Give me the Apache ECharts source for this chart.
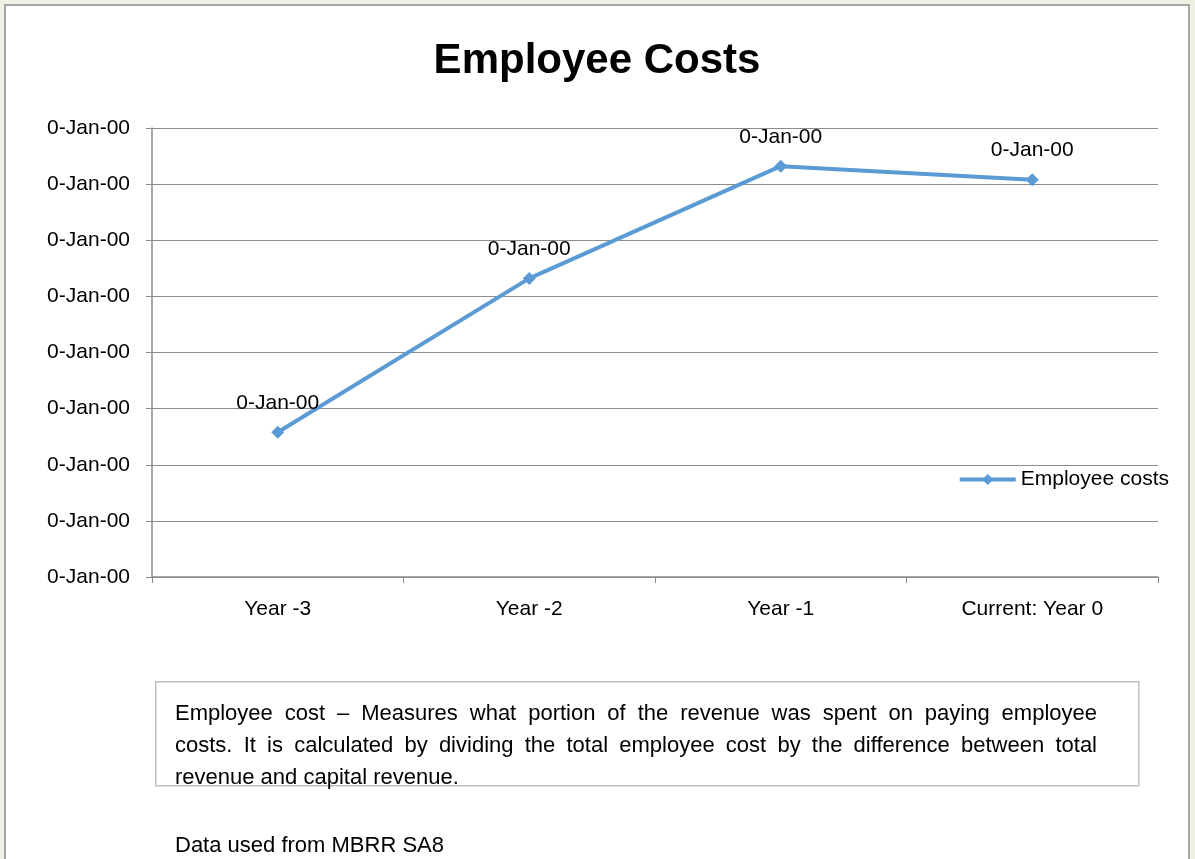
<!DOCTYPE html>
<html>
<head>
<meta charset="utf-8">
<script src="https://cdn.jsdelivr.net/npm/echarts@6/dist/echarts.min.js"></script>
<style>
html, body { margin: 0; padding: 0; background: #eef2e2; }
#chart {
    position: absolute; left: 4px; top: 4px;
    width: 1186px; height: 870px;
    background: #fff; border: 2px solid #a6a6a6; box-sizing: border-box;
}
</style>
</head>
<body>
<div id="chart"></div>
<script>
var categories = ['Year -3', 'Year -2', 'Year -1', 'Current: Year 0'];
var employeeCosts = [0.129, 0.266, 0.366, 0.354];
var noteLines = [
    'Employee cost \u2013 Measures what portion of the revenue was spent on paying employee',
    'costs. It is calculated by dividing the total employee cost by the difference between total',
    'revenue and capital revenue.'
];
var sourceLine = 'Data used from MBRR SA8';

var font = '"Liberation Sans", Arial, sans-serif';
var noteFont = '22px ' + font;
function dateLabel() { return '0-Jan-00'; }

var chart = echarts.init(document.getElementById('chart'));

// measure words so the first two note lines can be justified like the original
var ctx = document.createElement('canvas').getContext('2d');
ctx.font = noteFont;

var graphics = [{
    type: 'rect',
    left: 149, top: 675,
    shape: { width: 983, height: 104 },
    style: { fill: '#fff', stroke: '#c0c0c0', lineWidth: 1.5 }
}];
var textLeft = 169, textWidth = 922;
noteLines.forEach(function (t, i) {
    var top = 697 + i * 32;
    if (i === noteLines.length - 1) {
        graphics.push({ type: 'text', left: textLeft, top: top,
            style: { text: t, font: noteFont, fill: '#000' } });
        return;
    }
    var words = t.split(' ');
    var total = 0;
    words.forEach(function (w) { total += ctx.measureText(w).width; });
    var gap = (textWidth - total) / (words.length - 1);
    var x = textLeft;
    words.forEach(function (w) {
        graphics.push({ type: 'text', left: x, top: top,
            style: { text: w, font: noteFont, fill: '#000' } });
        x += ctx.measureText(w).width + gap;
    });
});
graphics.push({
    type: 'text', left: textLeft, top: 829,
    style: { text: sourceLine, font: noteFont, fill: '#000' }
});

var option = {
    animation: false,
    title: {
        text: 'Employee Costs',
        left: 'center', top: 29,
        textStyle: { fontFamily: font, fontSize: 42, fontWeight: 'bold', color: '#000' }
    },
    legend: {
        right: 14, top: 458,
        itemWidth: 56, itemHeight: 14, itemGap: 6,
        lineStyle: { width: 4 },
        textStyle: { fontFamily: font, fontSize: 21, color: '#000' },
        data: ['Employee costs']
    },
    grid: { left: 146, right: 30, top: 122, bottom: 295 },
    xAxis: {
        type: 'category',
        data: categories,
        boundaryGap: true,
        axisLine: { lineStyle: { color: '#8c8c8c', width: 1.5 } },
        axisTick: { show: true, length: 6, lineStyle: { color: '#8c8c8c' } },
        axisLabel: { fontFamily: font, fontSize: 21, color: '#000', margin: 22 }
    },
    yAxis: {
        type: 'value',
        min: 0, max: 0.4, interval: 0.05,
        axisLine: { show: true, lineStyle: { color: '#8c8c8c', width: 1.5 } },
        axisTick: { show: true, length: 6, lineStyle: { color: '#8c8c8c' } },
        splitLine: { lineStyle: { color: '#8c8c8c', width: 1.2 } },
        axisLabel: { fontFamily: font, fontSize: 21, color: '#000', margin: 22, formatter: dateLabel }
    },
    series: [{
        name: 'Employee costs',
        type: 'line',
        data: employeeCosts,
        symbol: 'diamond',
        symbolSize: 13,
        lineStyle: { color: '#5b9bd5', width: 4 },
        itemStyle: { color: '#5b9bd5' },
        label: {
            show: true, position: 'top', distance: 12,
            fontFamily: font, fontSize: 21, color: '#000',
            formatter: dateLabel
        }
    }],
    graphic: graphics
};
chart.setOption(option);
</script>
</body>
</html>
